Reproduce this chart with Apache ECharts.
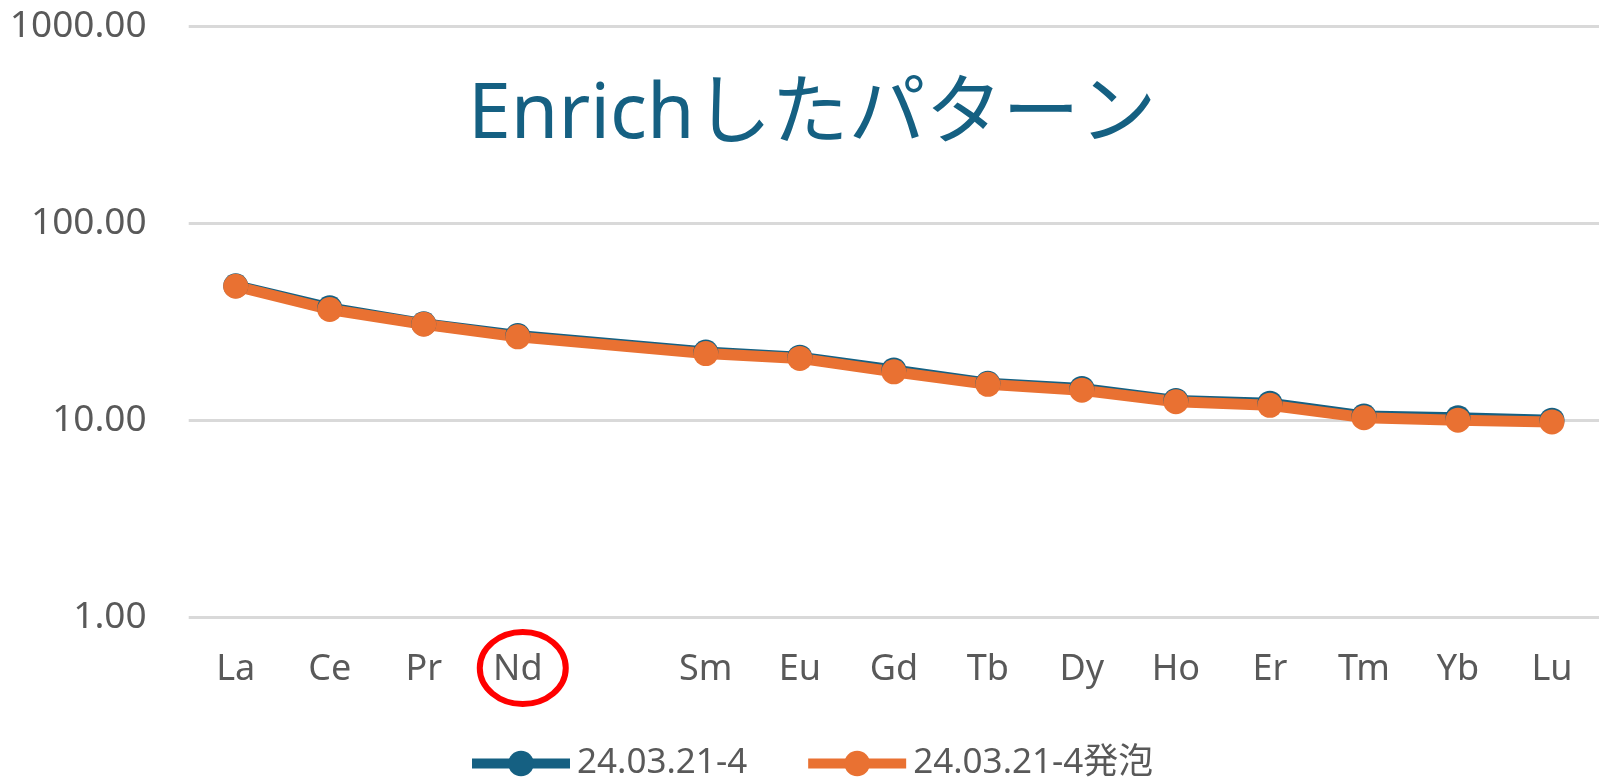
<!DOCTYPE html>
<html>
<head>
<meta charset="utf-8">
<script src="https://cdn.jsdelivr.net/npm/echarts@6/dist/echarts.min.js"></script>
<style>
  html, body { margin: 0; padding: 0; background: #fff; }
  #chart { width: 1599px; height: 783px; }
</style>
</head>
<body>
<div id="chart"></div>
<script>
// REE pattern (chondrite-normalised), Pm has no measurement
const elements = ['La', 'Ce', 'Pr', 'Nd', '', 'Sm', 'Eu', 'Gd', 'Tb', 'Dy', 'Ho', 'Er', 'Tm', 'Yb', 'Lu'];
const sampleRaw = [48.2, 37.2, 30.9, 26.9, null, 22.2, 20.9, 18.0, 15.4, 14.5, 12.6, 12.2, 10.5, 10.3, 10.0];
const sampleFoam = [47.9, 36.5, 30.7, 26.5, null, 21.8, 20.6, 17.6, 15.2, 14.2, 12.4, 11.9, 10.3, 10.0, 9.8];
const seriesNames = ['24.03.21-4', '24.03.21-4発泡'];
const yTicks = [1, 10, 100, 1000];
const titleText = 'Enrichしたパターン';
const markedElement = 'Nd';

const FONT = '"Noto Sans", "Noto Sans CJK JP", sans-serif';
const BLUE = '#156082';
const ORANGE = '#E97132';

const chart = echarts.init(document.getElementById('chart'));

function lineSeries(name, data, color) {
  return {
    name: name,
    type: 'line',
    data: data,
    connectNulls: true,
    symbol: 'circle',
    symbolSize: 25,
    lineStyle: { color: color, width: 11 },
    itemStyle: { color: color },
    emphasis: { disabled: true },
    z: 3
  };
}

chart.setOption({
  animation: false,
  backgroundColor: '#ffffff',
  textStyle: { fontFamily: FONT },
  grid: { left: 188.7, right: -8.3, top: 26.5, bottom: 166, containLabel: false },
  xAxis: {
    type: 'category',
    data: elements,
    boundaryGap: true,
    axisLine: { show: false },
    axisTick: { show: false },
    axisLabel: { color: '#595959', fontSize: 36, fontFamily: FONT, margin: 35, interval: 0 }
  },
  yAxis: {
    type: 'log',
    logBase: 10,
    min: yTicks[0],
    max: yTicks[yTicks.length - 1],
    axisLine: { show: false },
    axisTick: { show: false },
    splitLine: { show: true, lineStyle: { color: '#d9d9d9', width: 3 } },
    axisLabel: {
      color: '#595959',
      fontSize: 37,
      fontFamily: FONT,
      margin: 42,
      formatter: function (v) { return Number(v).toFixed(2); }
    }
  },
  legend: {
    data: seriesNames,
    left: 462,
    top: 741,
    itemWidth: 98,
    itemHeight: 32,
    itemGap: 56,
    lineStyle: { width: 10 },
    textStyle: { color: '#595959', fontSize: 35, fontFamily: FONT, padding: [0, 0, 0, 2] }
  },
  series: [
    lineSeries(seriesNames[0], sampleRaw, BLUE),
    lineSeries(seriesNames[1], sampleFoam, ORANGE)
  ]
});

// Title text and the highlight ring around the chosen element label
const ndX = chart.convertToPixel({ xAxisIndex: 0 }, markedElement);
const baseY = chart.convertToPixel({ yAxisIndex: 0 }, yTicks[0]);
chart.setOption({
  graphic: [
    {
      type: 'text',
      left: 468,
      top: 78,
      style: {
        text: titleText,
        fill: BLUE,
        font: '77px ' + FONT
      }
    },
    {
      type: 'ellipse',
      shape: { cx: ndX + 5, cy: baseY + 51, rx: 43, ry: 36 },
      style: { fill: 'none', stroke: '#ff0000', lineWidth: 6 },
      z: 10
    }
  ]
});
</script>
</body>
</html>
